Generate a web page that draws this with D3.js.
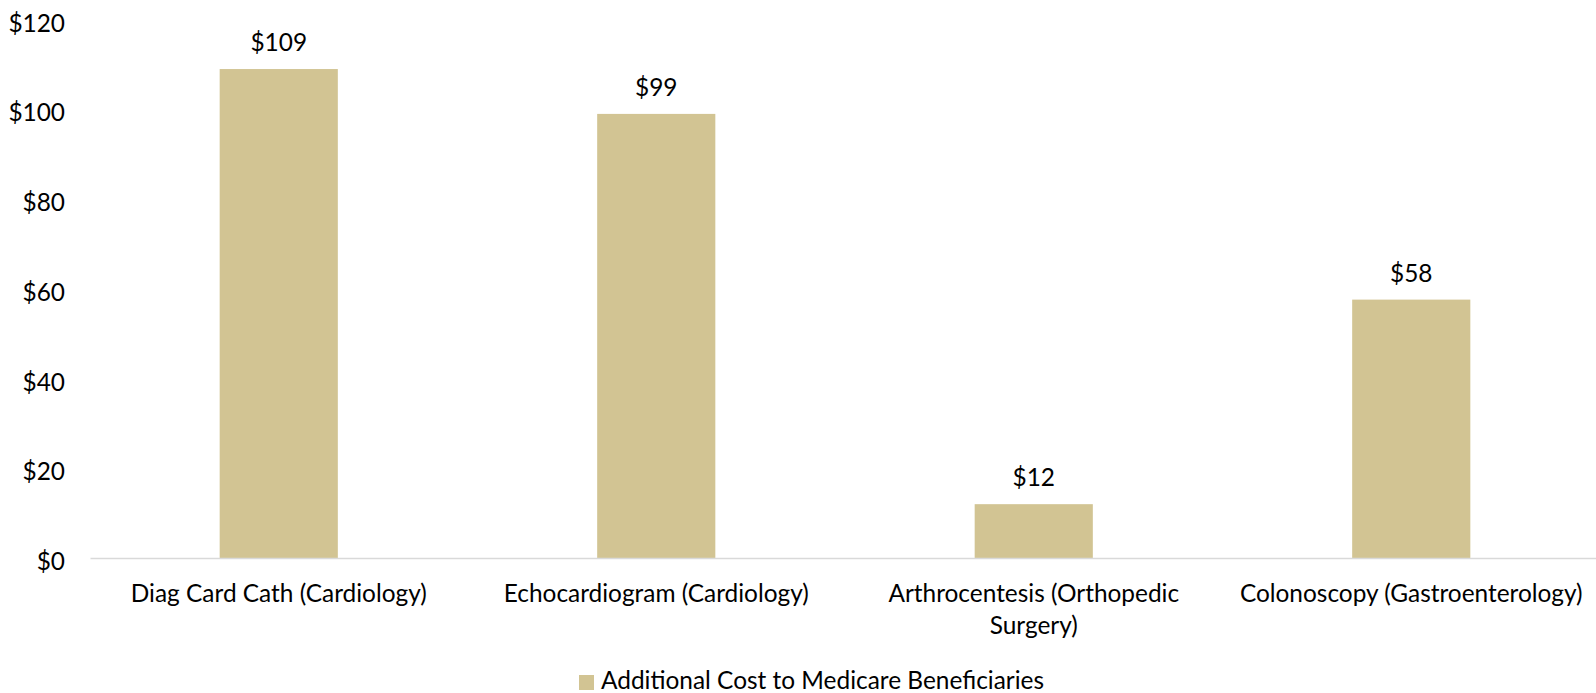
<!DOCTYPE html>
<html><head><meta charset="utf-8">
<script src="https://cdn.jsdelivr.net/npm/d3@7"></script>
<style>body{margin:0;background:#fff;} svg{display:block;}</style>
</head><body>
<script>
const categories = ["Diag Card Cath (Cardiology)", "Echocardiogram (Cardiology)", "Arthrocentesis (Orthopedic Surgery)", "Colonoscopy (Gastroenterology)"];
const values = [109, 99, 12, 57.6];
const valueLabels = ["$109", "$99", "$12", "$58"];
const yTicks = [0, 20, 40, 60, 80, 100, 120];
const seriesName = "Additional Cost to Medicare Beneficiaries";

const W = 1596, H = 693;
const FONT = "Lato, 'Open Sans', sans-serif";
const BAR = "#D2C493", AXIS = "#D9D9D9", TXT = "#000";

const svg = d3.select("body").append("svg").attr("width", W).attr("height", H)
  .style("font-family", FONT);

// fit font size to reference text width
const probe = svg.append("text").attr("font-size", 26).text(categories[0]);
const pw = probe.node().getComputedTextLength();
probe.remove();
const FS = 26 * 296 / pw;

const x = d3.scaleBand().domain(categories).range([90, 1600]).paddingInner(0.687).paddingOuter(0.3435);
const y = d3.scaleLinear().domain([0, 120]).range([558, 19.7]);

// y axis
const gy = svg.append("g").attr("transform", "translate(90,0)")
  .call(d3.axisLeft(y).tickValues(yTicks).tickSize(0).tickPadding(25).tickFormat(d => "$" + d));
gy.select(".domain").remove();
gy.selectAll("text").attr("font-size", FS).attr("font-family", FONT).attr("fill", TXT).attr("dy", "0.47em");

// bars
svg.append("g").selectAll("rect").data(categories).join("rect")
  .attr("x", d => x(d)).attr("width", x.bandwidth())
  .attr("y", (d, i) => y(values[i])).attr("height", (d, i) => y(0) - y(values[i]))
  .attr("fill", BAR);

// x axis
const gx = svg.append("g").attr("transform", `translate(0,${y(0)})`)
  .call(d3.axisBottom(x).tickSize(0).tickSizeOuter(0));
gx.select(".domain").attr("stroke", AXIS).attr("stroke-width", 1.5);
gx.selectAll(".tick text").each(function(d) {
  const t = d3.select(this).attr("font-size", FS).attr("font-family", FONT).attr("fill", TXT)
    .attr("dy", null).attr("y", 0).text(null);
  const words = d.split(" ");
  const maxW = x.step() * 0.97;
  let lines = [], cur = [];
  const tmp = t.append("tspan");
  words.forEach(w => {
    const test = cur.concat([w]).join(" ");
    tmp.text(test);
    if (tmp.node().getComputedTextLength() > maxW && cur.length) { lines.push(cur.join(" ")); cur = [w]; }
    else cur.push(w);
  });
  lines.push(cur.join(" "));
  tmp.remove();
  lines.forEach((ln, i) => t.append("tspan").attr("x", 0).attr("y", 44 + i * 32).text(ln));
});

// value labels
svg.append("g").selectAll("text").data(categories).join("text")
  .attr("x", d => x(d) + x.bandwidth() / 2)
  .attr("y", (d, i) => y(values[i]) - 18)
  .attr("text-anchor", "middle").attr("font-size", FS).attr("fill", TXT)
  .text((d, i) => valueLabels[i]);

// legend
const lg = svg.append("g");
lg.append("rect").attr("x", 579).attr("y", 675).attr("width", 15).attr("height", 15).attr("fill", BAR);
lg.append("text").attr("x", 601).attr("y", 689).attr("font-size", FS).attr("fill", TXT).text(seriesName);
</script>
</body></html>
